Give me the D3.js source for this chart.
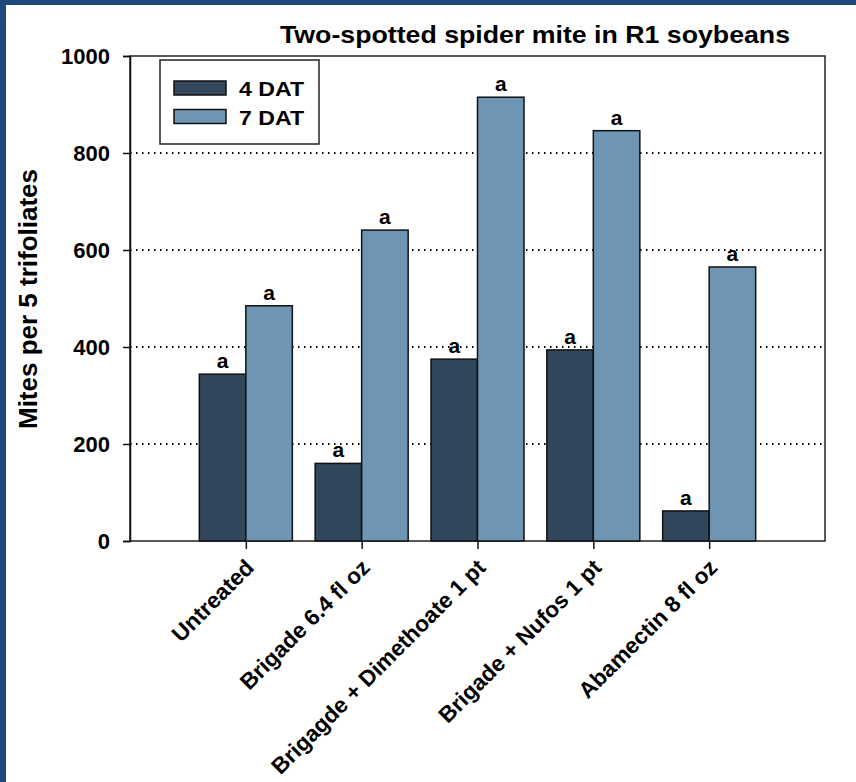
<!DOCTYPE html>
<html>
<head>
<meta charset="utf-8">
<script src="https://cdn.jsdelivr.net/npm/d3@7"></script>
<style>
  body { margin: 0; background: #fff; }
  svg { display: block; font-family: "Liberation Sans", Arial, sans-serif; }
</style>
</head>
<body>
<div id="chart"></div>
<script>
// data
const categories = ['Untreated', 'Brigade 6.4 fl oz', 'Brigagde + Dimethoate 1 pt',
  'Brigade + Nufos 1 pt', 'Abamectin 8 fl oz'];
const seriesNames = ['4 DAT', '7 DAT'];
const dat4 = [344, 160, 375, 394, 62];
const dat7 = [485, 641, 915, 846, 565];
const letters4 = ['a', 'a', 'a', 'a', 'a'];
const letters7 = ['a', 'a', 'a', 'a', 'a'];
const yTicks = [0, 200, 400, 600, 800, 1000];
const gridTicks = [200, 400, 600, 800];

const W = 856, H = 782;
const colors = ['#32465c', '#6e96b4'];
const font = '"Liberation Sans", Arial, sans-serif';

const svg = d3.select('#chart').append('svg')
  .attr('width', W).attr('height', H);

// blue slide frame
svg.append('rect').attr('x', 0).attr('y', 0).attr('width', W).attr('height', 5).attr('fill', '#1f497d');
svg.append('rect').attr('x', 0).attr('y', 0).attr('width', 6).attr('height', H).attr('fill', '#1f497d');

const pLeft = 130, pRight = 825, pTop = 56, pBottom = 541;

const y = d3.scaleLinear().domain([0, 1000]).range([pBottom, pTop]);
// 6 slots, categories at 1..5
const x = d3.scalePoint().domain(categories).range([pLeft, pRight]).padding(1);
const barW = 46.5;

// gridlines
svg.append('g').selectAll('line').data(gridTicks).join('line')
  .attr('x1', pLeft).attr('x2', pRight)
  .attr('y1', d => y(d)).attr('y2', d => y(d))
  .attr('stroke', '#000').attr('stroke-width', 2)
  .attr('stroke-dasharray', '1.5,4.5');

// frame
svg.append('rect').attr('x', pLeft).attr('y', pTop)
  .attr('width', pRight - pLeft).attr('height', pBottom - pTop)
  .attr('fill', 'none').attr('stroke', '#222').attr('stroke-width', 1.5);

// bars
const series = [dat4, dat7];
const lets = [letters4, letters7];
series.forEach((vals, s) => {
  const g = svg.append('g');
  g.selectAll('rect').data(vals).join('rect')
    .attr('x', (d, i) => x(categories[i]) + (s === 0 ? -barW : 0))
    .attr('y', d => y(d))
    .attr('width', barW)
    .attr('height', d => pBottom - y(d))
    .attr('fill', colors[s])
    .attr('stroke', '#111').attr('stroke-width', 1.5);
  g.selectAll('text').data(vals).join('text')
    .attr('x', (d, i) => x(categories[i]) + (s === 0 ? -barW / 2 : barW / 2))
    .attr('y', d => y(d) - 6)
    .attr('text-anchor', 'middle')
    .attr('font-size', 21).attr('font-weight', 'bold')
    .text((d, i) => lets[s][i]);
});

// y axis
const yAxis = svg.append('g')
  .attr('transform', `translate(${pLeft},0)`)
  .call(d3.axisLeft(y).tickValues(yTicks).tickFormat(d3.format('d')).tickSize(7).tickPadding(13));
yAxis.select('.domain').attr('stroke', '#111').attr('stroke-width', 1.5);
yAxis.selectAll('.tick line').attr('stroke', '#111').attr('stroke-width', 1.5);
yAxis.selectAll('text').attr('font-size', 22).attr('font-weight', 'bold')
  .attr('fill', '#000').attr('font-family', font);

// x axis
const xAxis = svg.append('g')
  .attr('transform', `translate(0,${pBottom})`)
  .call(d3.axisBottom(x).tickSize(8).tickSizeOuter(0));
xAxis.select('.domain').remove();
xAxis.selectAll('.tick line').attr('stroke', '#111').attr('stroke-width', 1.5);
xAxis.selectAll('text')
  .attr('font-size', 22.5).attr('font-weight', 'bold').attr('fill', '#000')
  .attr('font-family', font)
  .attr('text-anchor', 'end')
  .attr('dy', null).attr('y', 0)
  .attr('transform', 'translate(9,28) rotate(-45)');

// title
svg.append('text').attr('x', 280).attr('y', 43)
  .attr('font-size', 24).attr('font-weight', 'bold')
  .attr('textLength', 510).attr('lengthAdjust', 'spacingAndGlyphs')
  .text('Two-spotted spider mite in R1 soybeans');

// y label
svg.append('text')
  .attr('transform', `translate(37,299) rotate(-90)`)
  .attr('text-anchor', 'middle').attr('font-size', 26).attr('font-weight', 'bold')
  .text('Mites per 5 trifoliates');

// legend
const lg = svg.append('g');
lg.append('rect').attr('x', 160).attr('y', 60).attr('width', 159).attr('height', 84)
  .attr('fill', '#fff').attr('stroke', '#222').attr('stroke-width', 1.5);
seriesNames.forEach((n, i) => {
  lg.append('rect').attr('x', 174).attr('y', 81 + i * 28.5).attr('width', 52).attr('height', 14)
    .attr('fill', colors[i]).attr('stroke', '#111').attr('stroke-width', 1.5);
  lg.append('text').attr('x', 239).attr('y', 96 + i * 28.5)
    .attr('font-size', 21).attr('font-weight', 'bold')
    .attr('textLength', 65).attr('lengthAdjust', 'spacingAndGlyphs')
    .text(n);
});
</script>
</body>
</html>
